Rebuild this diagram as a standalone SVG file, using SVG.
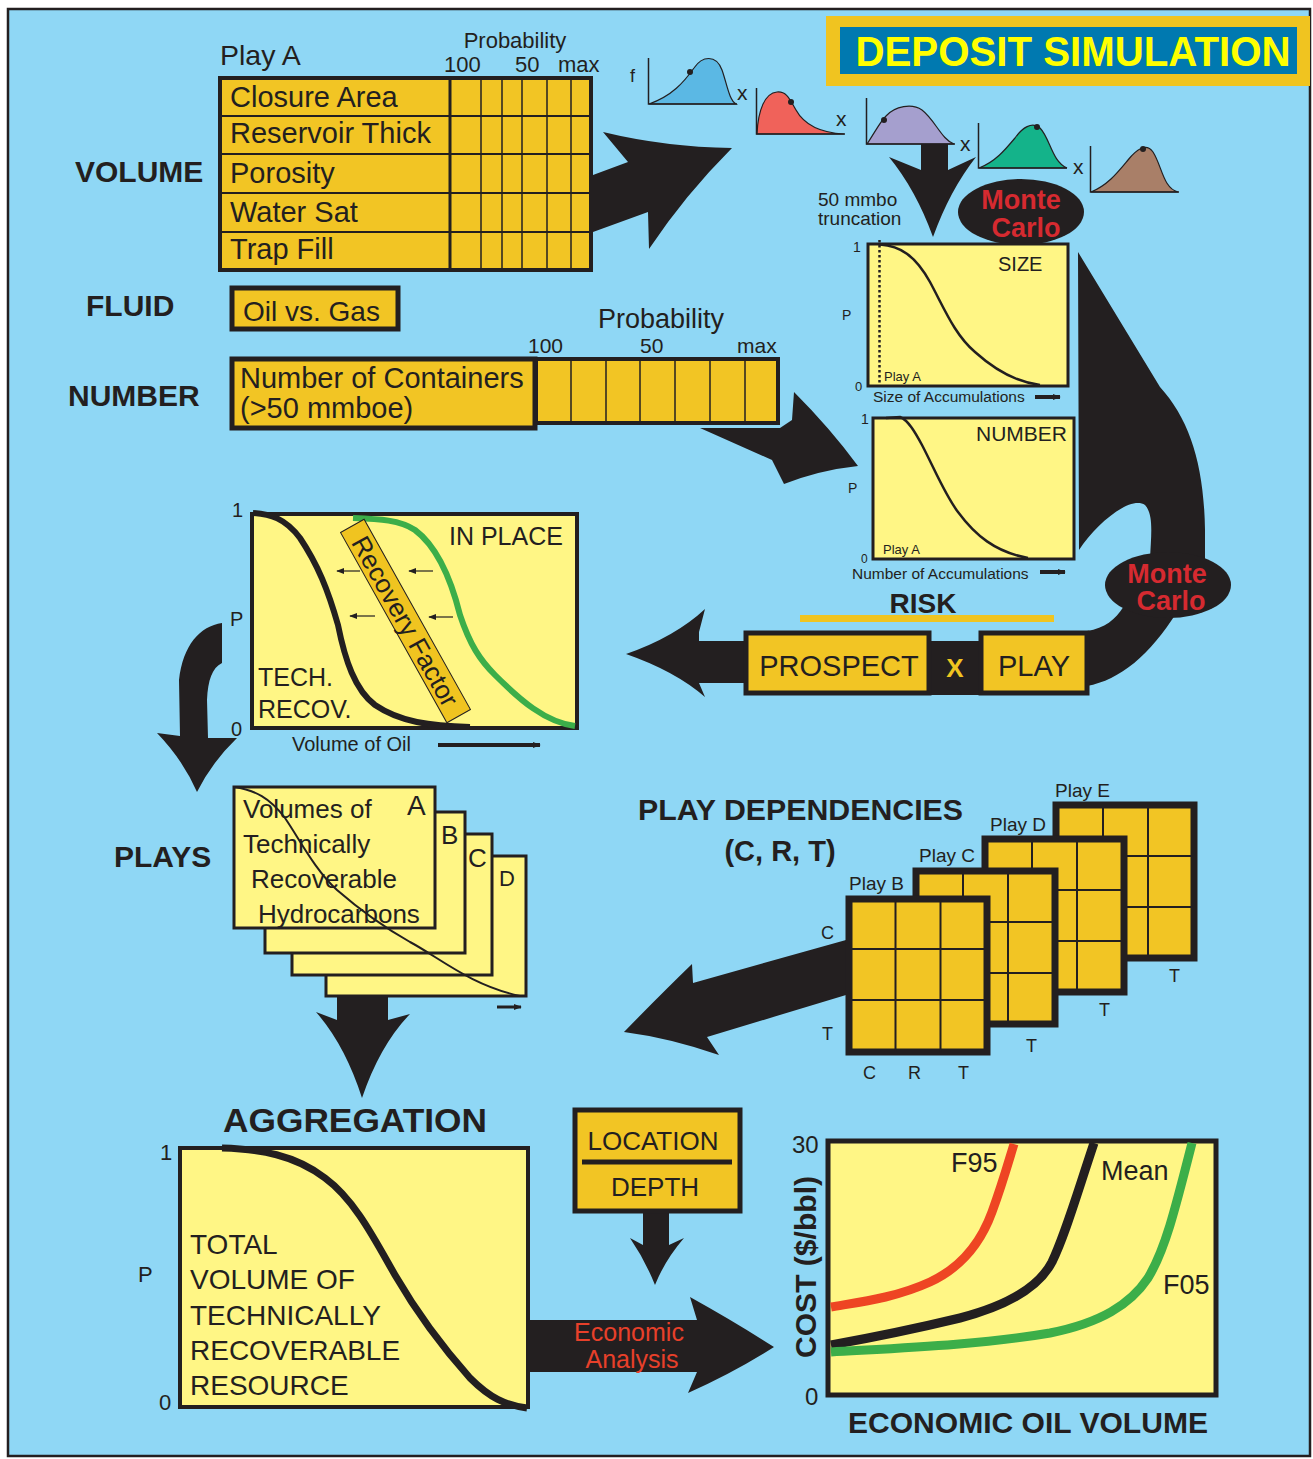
<svg xmlns="http://www.w3.org/2000/svg" width="1313" height="1459" viewBox="0 0 1313 1459">
<style>
text{font-family:"Liberation Sans",Arial,sans-serif;fill:#231f20}
.b{font-weight:bold}
.dk{fill:#231f20}
.cell{fill:#f2c524;stroke:#231f20}
.lt{fill:#fff685;stroke:#231f20}
.ln{stroke:#231f20;fill:none}
.ax{stroke:#231f20;stroke-width:1.5;fill:none}
.mc{fill:#d62a30;font-weight:bold;font-size:27px}
</style>
<defs>
<marker id="ah" viewBox="0 0 10 10" refX="9" refY="5" markerWidth="8" markerHeight="8" markerUnits="userSpaceOnUse" orient="auto"><path d="M0,1 L10,5 L0,9 Z" fill="#231f20"/></marker>
</defs>
<rect x="0" y="0" width="1313" height="1459" fill="#ffffff"/>
<rect x="8" y="9" width="1302" height="1447" fill="#8fd7f5" stroke="#231f20" stroke-width="2.5"/>

<g id="connectors">
  <path class="dk" d="M593,175 L628,162 L603,132 Q665,147 732,148 Q685,195 649,249 L648,212 L593,232 Z"/>
  <path class="dk" d="M921,143 L948,143 L948,170 L976,157 Q950,190 933,237 Q916,190 889,157 L921,170 Z"/>
  <path class="dk" d="M700,428 L780,428 L792,420 L794,392 Q830,428 858,466 Q820,470 784,484 L772,460 Z"/>
  <path class="dk" d="M1078,252 L1160,387 C1190,420 1204,465 1205,530 L1205,575 L1177,612 C1150,655 1120,680 1087,686 L1087,631 C1105,628 1115,620 1124,606 L1150,560 C1151,535 1154,515 1145,505 C1130,495 1095,525 1079,550 Z"/>
  <path class="dk" d="M1087,641 L699,641 L699,632 L705,609 Q675,637 626,654 Q675,671 705,697 L699,683 L744,683 L744,695 L1087,695 Z"/>
  <path class="dk" d="M222,623 C200,626 183,645 179,680 L180,736 L157,733 Q183,760 197,792 Q212,762 237,738 L208,738 L207,700 C208,680 212,668 222,663 Z"/>
  <path class="dk" d="M337,997 L388,997 L388,1020 L410,1014 Q380,1045 362,1098 Q345,1045 316,1012 L337,1020 Z"/>
  <path class="dk" d="M846,940 L693,983 L692,964 Q660,995 624,1032 Q670,1038 719,1055 L707,1037 L846,995 Z"/>
  <path class="dk" d="M643,1213 L669,1213 L669,1245 L684,1238 Q665,1260 655,1285 Q645,1260 630,1238 L643,1245 Z"/>
  <path class="dk" d="M530,1320 L697,1320 L690,1297 Q735,1322 774,1347 Q735,1372 688,1393 L697,1372 L530,1372 Z"/>
</g>

<g id="title">
  <rect x="826" y="16" width="484" height="70" fill="#f0c420"/>
  <rect x="840" y="27" width="457" height="47" fill="#0079b0"/>
  <text x="1073" y="66" text-anchor="middle" class="b" font-size="42" textLength="435" lengthAdjust="spacingAndGlyphs" style="fill:#ffff00">DEPOSIT SIMULATION</text>
</g>

<g id="labels">
  <text x="75" y="182" class="b" font-size="30">VOLUME</text>
  <text x="86" y="316" class="b" font-size="30">FLUID</text>
  <text x="68" y="406" class="b" font-size="30">NUMBER</text>
  <text x="114" y="867" class="b" font-size="30">PLAYS</text>
</g>

<g id="volume-table">
  <text x="220" y="65" font-size="28.5">Play A</text>
  <text x="515" y="48" text-anchor="middle" font-size="22">Probability</text>
  <text x="444" y="72" font-size="22">100</text>
  <text x="515" y="72" font-size="22">50</text>
  <text x="558" y="72" font-size="22">max</text>
  <rect x="220" y="78" width="371" height="192" class="cell" stroke-width="4"/>
  <line x1="450" y1="78" x2="450" y2="270" class="ln" stroke-width="3"/>
  <g class="ln" stroke-width="2">
    <line x1="220" y1="116" x2="591" y2="116"/>
    <line x1="220" y1="154" x2="591" y2="154"/>
    <line x1="220" y1="193" x2="591" y2="193"/>
    <line x1="220" y1="232" x2="591" y2="232"/>
  </g>
  <g class="ln" stroke-width="1.5">
    <line x1="481" y1="78" x2="481" y2="270"/>
    <line x1="502" y1="78" x2="502" y2="270"/>
    <line x1="522" y1="78" x2="522" y2="270"/>
    <line x1="547" y1="78" x2="547" y2="270"/>
    <line x1="571" y1="78" x2="571" y2="270"/>
  </g>
  <g font-size="29">
    <text x="230" y="107">Closure Area</text>
    <text x="230" y="143">Reservoir Thick</text>
    <text x="230" y="183">Porosity</text>
    <text x="230" y="222">Water Sat</text>
    <text x="230" y="259">Trap Fill</text>
  </g>
</g>

<g id="fluid-box">
  <rect x="232" y="288" width="166" height="41" class="cell" stroke-width="5"/>
  <text x="243" y="321" font-size="28">Oil vs. Gas</text>
</g>

<g id="number-box">
  <text x="661" y="328" text-anchor="middle" font-size="27">Probability</text>
  <text x="528" y="353" font-size="21">100</text>
  <text x="640" y="353" font-size="21">50</text>
  <text x="737" y="353" font-size="21">max</text>
  <rect x="536" y="359" width="242" height="64" class="cell" stroke-width="4"/>
  <g class="ln" stroke-width="1.5">
    <line x1="571" y1="359" x2="571" y2="423"/>
    <line x1="606" y1="359" x2="606" y2="423"/>
    <line x1="640" y1="359" x2="640" y2="423"/>
    <line x1="675" y1="359" x2="675" y2="423"/>
    <line x1="710" y1="359" x2="710" y2="423"/>
    <line x1="745" y1="359" x2="745" y2="423"/>
  </g>
  <rect x="232" y="359" width="303" height="69" class="cell" stroke-width="5"/>
  <text x="240" y="388" font-size="29">Number of Containers</text>
  <text x="240" y="418" font-size="29">(&gt;50 mmboe)</text>
</g>

<g id="distributions">
  <text x="630" y="82" font-size="18">f</text>
  <path d="M649,104 C672,96 684,82 694,68 C702,56 716,54 722,70 C727,84 729,100 736,104 Z" fill="#5bb8e4" stroke="#231f20" stroke-width="1.2"/>
  <path d="M648.5,58 L648.5,104 L737,104" class="ax"/>
  <circle cx="690" cy="72" r="3" class="dk"/>
  <text x="737" y="100" font-size="21">x</text>

  <path d="M757,134 C758,110 765,93 777,92 C787,91 790,100 796,110 C806,128 825,133 844,134 Z" fill="#f0625a" stroke="#231f20" stroke-width="1.2"/>
  <path d="M756.5,88 L756.5,134 L845,134" class="ax"/>
  <circle cx="791" cy="102" r="3" class="dk"/>
  <text x="836" y="126" font-size="21">x</text>

  <path d="M867,144 C875,132 880,122 886,116 C895,106 912,103 922,110 C935,120 942,140 954,144 Z" fill="#a59fce" stroke="#231f20" stroke-width="1.2"/>
  <path d="M866.5,98 L866.5,144 L955,144" class="ax"/>
  <circle cx="884" cy="120" r="3" class="dk"/>
  <text x="960" y="151" font-size="21">x</text>

  <path d="M979,168 C995,162 1005,150 1015,138 C1022,128 1032,121 1040,128 C1050,138 1052,162 1067,168 Z" fill="#14b38a" stroke="#231f20" stroke-width="1.2"/>
  <path d="M978.5,123 L978.5,168 L1067,168" class="ax"/>
  <circle cx="1037" cy="127" r="3" class="dk"/>
  <text x="1073" y="174" font-size="21">x</text>

  <path d="M1091,192 C1108,185 1118,172 1128,160 C1136,150 1146,142 1153,152 C1162,166 1163,188 1178,192 Z" fill="#a97f68" stroke="#231f20" stroke-width="1.2"/>
  <path d="M1090.5,146 L1090.5,192 L1179,192" class="ax"/>
  <circle cx="1143" cy="149" r="3" class="dk"/>

  <text x="818" y="206" font-size="19">50 mmbo</text>
  <text x="818" y="225" font-size="19">truncation</text>
</g>

<g id="monte-carlo-1">
  <ellipse cx="1021" cy="212" rx="63" ry="33" class="dk"/>
  <text x="1021" y="209" text-anchor="middle" class="mc">Monte</text>
  <text x="1026" y="237" text-anchor="middle" class="mc">Carlo</text>
</g>

<g id="size-chart">
  <rect x="868" y="244" width="200" height="142" class="lt" stroke-width="3"/>
  <line x1="879.5" y1="240" x2="879.5" y2="386" class="ln" stroke-width="2.5" stroke-dasharray="2.5,2.5"/>
  <path d="M880,244.5 C900,246 915,255 930,282 C945,310 955,335 975,352 C995,370 1015,382 1040,385" class="ln" stroke-width="2.5"/>
  <text x="853" y="252" font-size="14">1</text>
  <text x="842" y="320" font-size="14">P</text>
  <text x="855" y="391" font-size="13">0</text>
  <text x="998" y="271" font-size="20">SIZE</text>
  <text x="884" y="381" font-size="13">Play A</text>
  <text x="873" y="402" font-size="15.5">Size of Accumulations</text>
  <line x1="1035" y1="397" x2="1060" y2="397" class="ln" stroke-width="4" marker-end="url(#ah)"/>
</g>

<g id="number-chart">
  <rect x="873" y="418" width="201" height="141" class="lt" stroke-width="3"/>
  <path d="M886,418 L900,417 C908,420 915,432 922,445 C935,470 945,495 958,512 C975,535 995,552 1028,558" class="ln" stroke-width="2.5"/>
  <text x="861" y="424" font-size="14">1</text>
  <text x="848" y="493" font-size="14">P</text>
  <text x="861" y="563" font-size="12">0</text>
  <text x="976" y="441" font-size="21">NUMBER</text>
  <text x="883" y="554" font-size="13">Play A</text>
  <text x="852" y="579" font-size="15.5">Number of Accumulations</text>
  <line x1="1040" y1="572" x2="1065" y2="572" class="ln" stroke-width="4" marker-end="url(#ah)"/>
</g>

<g id="monte-carlo-2">
  <ellipse cx="1168" cy="585" rx="63" ry="33" class="dk"/>
  <text x="1167" y="583" text-anchor="middle" class="mc">Monte</text>
  <text x="1171" y="610" text-anchor="middle" class="mc">Carlo</text>
</g>

<g id="risk">
  <text x="923" y="613" text-anchor="middle" class="b" font-size="28">RISK</text>
  <rect x="800" y="615" width="254" height="7" fill="#f0c420"/>
  <rect x="746" y="633" width="183" height="60" class="cell" stroke-width="5"/>
  <text x="839" y="676" text-anchor="middle" font-size="29">PROSPECT</text>
  <text x="955" y="677" text-anchor="middle" class="b" font-size="26" style="fill:#f0c420">X</text>
  <rect x="981" y="633" width="106" height="60" class="cell" stroke-width="5"/>
  <text x="1034" y="676" text-anchor="middle" font-size="29">PLAY</text>
</g>

<g id="inplace-chart">
  <rect x="252" y="514" width="325" height="214" class="lt" stroke-width="4"/>
  <path d="M353,518 C380,519 400,520 415,530 C435,545 450,575 460,615 C470,645 480,660 495,675 C520,700 545,722 575,726" class="ln" stroke-width="6" style="stroke:#3cae49"/>
  <path d="M253,513 C270,514 285,518 300,538 C318,565 328,590 338,625 C345,660 355,690 375,705 C400,722 430,726 470,727" class="ln" stroke-width="6"/>
  <g transform="translate(405.5,621) rotate(60.8)">
    <rect x="-109" y="-13.5" width="218" height="27" fill="#f0c420" stroke="#231f20" stroke-width="1"/>
    <text x="0" y="9.5" text-anchor="middle" font-size="26">Recovery Factor</text>
  </g>
  <g class="ln" stroke-width="1.2">
    <line x1="433" y1="571" x2="409" y2="571" marker-end="url(#ah)"/>
    <line x1="360" y1="571" x2="337" y2="571" marker-end="url(#ah)"/>
    <line x1="453" y1="617" x2="429" y2="617" marker-end="url(#ah)"/>
    <line x1="375" y1="616" x2="350" y2="616" marker-end="url(#ah)"/>
  </g>
  <text x="449" y="545" font-size="25">IN PLACE</text>
  <text x="258" y="686" font-size="25">TECH.</text>
  <text x="258" y="718" font-size="25">RECOV.</text>
  <text x="232" y="517" font-size="20">1</text>
  <text x="230" y="626" font-size="20">P</text>
  <text x="231" y="736" font-size="20">0</text>
  <text x="292" y="751" font-size="20">Volume of Oil</text>
  <line x1="438" y1="745" x2="540" y2="745" class="ln" stroke-width="4" marker-end="url(#ah)"/>
</g>

<g id="plays-stack">
  <rect x="326" y="856" width="200" height="140" class="lt" stroke-width="3"/>
  <rect x="292" y="834" width="200" height="141" class="lt" stroke-width="3"/>
  <rect x="265" y="812" width="200" height="141" class="lt" stroke-width="3"/>
  <rect x="234" y="787" width="201" height="141" class="lt" stroke-width="3"/>
  <text x="499" y="886" font-size="22">D</text>
  <text x="468" y="867" font-size="26">C</text>
  <text x="441" y="844" font-size="26">B</text>
  <text x="407" y="815" font-size="28">A</text>
  <g font-size="26">
    <text x="243" y="818">Volumes of</text>
    <text x="243" y="853">Technically</text>
    <text x="251" y="888">Recoverable</text>
    <text x="258" y="923">Hydrocarbons</text>
  </g>
  <path d="M234,787 C255,790 270,798 285,818 C300,840 315,870 337,890 C360,910 380,925 410,942 C440,958 470,985 520,996" class="ln" stroke-width="2"/>
  <line x1="497" y1="1007" x2="521" y2="1007" class="ln" stroke-width="3" marker-end="url(#ah)"/>
</g>

<g id="play-dependencies">
  <text x="638" y="820" class="b" font-size="30" textLength="325" lengthAdjust="spacingAndGlyphs">PLAY DEPENDENCIES</text>
  <text x="780" y="861" text-anchor="middle" class="b" font-size="29">(C, R, T)</text>
</g>

<g id="grid-play-e">
  <text x="1055" y="797" font-size="19">Play E</text>
  <rect x="1056" y="805" width="138" height="153" class="cell" stroke-width="7"/>
  <path d="M1103,805 V958 M1148,805 V958 M1056,856 H1194 M1056,907 H1194" class="ln" stroke-width="2"/>
  <text x="1169" y="982" font-size="18">T</text>
</g>
<g id="grid-play-d">
  <text x="990" y="831" font-size="19">Play D</text>
  <rect x="985" y="839" width="139" height="153" class="cell" stroke-width="7"/>
  <path d="M1032,839 V992 M1077,839 V992 M985,890 H1124 M985,941 H1124" class="ln" stroke-width="2"/>
  <text x="1099" y="1016" font-size="18">T</text>
</g>
<g id="grid-play-c">
  <text x="919" y="862" font-size="19">Play C</text>
  <rect x="916" y="871" width="139" height="153" class="cell" stroke-width="7"/>
  <path d="M963,871 V1024 M1008,871 V1024 M916,922 H1055 M916,973 H1055" class="ln" stroke-width="2"/>
  <text x="1026" y="1052" font-size="18">T</text>
</g>
<g id="grid-play-b">
  <text x="849" y="890" font-size="19">Play B</text>
  <rect x="849" y="899" width="138" height="153" class="cell" stroke-width="7"/>
  <path d="M895.5,899 V1052 M940.5,899 V1052 M849,949 H987 M849,1000 H987" class="ln" stroke-width="2"/>
  <text x="821" y="939" font-size="18">C</text>
  <text x="822" y="1040" font-size="18">T</text>
  <text x="863" y="1079" font-size="18">C</text>
  <text x="908" y="1079" font-size="18">R</text>
  <text x="958" y="1079" font-size="18">T</text>
</g>

<g id="aggregation">
  <text x="223" y="1132" class="b" font-size="34" textLength="264" lengthAdjust="spacingAndGlyphs">AGGREGATION</text>
  <rect x="180" y="1148" width="348" height="259" class="lt" stroke-width="4"/>
  <path d="M222,1148 C260,1149 295,1155 325,1178 C355,1200 375,1240 395,1275 C420,1318 445,1350 470,1378 C490,1398 505,1405 527,1408" class="ln" stroke-width="7"/>
  <g font-size="28">
    <text x="190" y="1254">TOTAL</text>
    <text x="190" y="1289">VOLUME OF</text>
    <text x="190" y="1325">TECHNICALLY</text>
    <text x="190" y="1360">RECOVERABLE</text>
    <text x="190" y="1395">RESOURCE</text>
  </g>
  <text x="160" y="1160" font-size="22">1</text>
  <text x="138" y="1282" font-size="22">P</text>
  <text x="159" y="1410" font-size="22">0</text>
</g>

<g id="economic-analysis">
  <text x="629" y="1341" text-anchor="middle" font-size="25" style="fill:#e8402a">Economic</text>
  <text x="632" y="1368" text-anchor="middle" font-size="25" style="fill:#e8402a">Analysis</text>
</g>

<g id="location-depth">
  <rect x="575" y="1110" width="165" height="101" class="cell" stroke-width="5"/>
  <line x1="582" y1="1162" x2="732" y2="1162" class="ln" stroke-width="5"/>
  <text x="653" y="1150" text-anchor="middle" font-size="26">LOCATION</text>
  <text x="655" y="1196" text-anchor="middle" font-size="26">DEPTH</text>
</g>

<g id="cost-chart">
  <rect x="828" y="1141" width="388" height="254" class="lt" stroke-width="5"/>
  <path d="M831,1307 C860,1302 895,1298 930,1282 C960,1268 980,1245 992,1212 C1003,1182 1009,1160 1014,1144" class="ln" stroke-width="9" style="stroke:#ee4523"/>
  <path d="M831,1345 C870,1338 910,1330 960,1318 C1010,1305 1040,1285 1052,1262 C1065,1235 1075,1200 1094,1143" class="ln" stroke-width="9"/>
  <path d="M831,1352 C900,1348 980,1345 1050,1333 C1100,1323 1130,1305 1148,1278 C1165,1250 1175,1210 1192,1143" class="ln" stroke-width="9" style="stroke:#3cae49"/>
  <text x="951" y="1172" font-size="27">F95</text>
  <text x="1101" y="1180" font-size="27">Mean</text>
  <text x="1163" y="1294" font-size="27">F05</text>
  <text x="792" y="1153" font-size="24">30</text>
  <text x="805" y="1405" font-size="24">0</text>
  <text transform="translate(816,1267) rotate(-90)" text-anchor="middle" class="b" font-size="30" textLength="182" lengthAdjust="spacingAndGlyphs">COST ($/bbl)</text>
  <text x="1028" y="1433" text-anchor="middle" class="b" font-size="30" textLength="360" lengthAdjust="spacingAndGlyphs">ECONOMIC OIL VOLUME</text>
</g>
</svg>
